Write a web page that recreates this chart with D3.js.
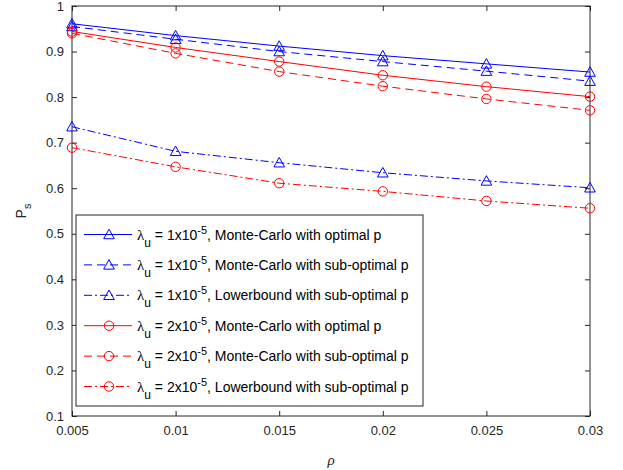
<!DOCTYPE html>
<html>
<head>
<meta charset="utf-8">
<script src="https://cdn.jsdelivr.net/npm/d3@7/dist/d3.min.js"></script>
<style>
  body { margin: 0; background: #fff; }
  svg { display: block; font-family: "Liberation Sans", Arial, sans-serif; }
</style>
</head>
<body>
<svg id="chart"></svg>
<script>
const width = 623, height = 470;
const margin = { top: 6, right: 33, bottom: 54, left: 72 };
const innerWidth = width - margin.left - margin.right;
const innerHeight = height - margin.top - margin.bottom;

// data
const rho = [0.005, 0.01, 0.015, 0.02, 0.025, 0.03];
const mcOpt1 = [0.961, 0.935, 0.912, 0.891, 0.873, 0.855];
const mcSub1 = [0.955, 0.927, 0.900, 0.878, 0.857, 0.835];
const lowB1 = [0.735, 0.681, 0.656, 0.634, 0.616, 0.601];
const mcOpt2 = [0.944, 0.909, 0.878, 0.848, 0.823, 0.801];
const mcSub2 = [0.940, 0.896, 0.856, 0.824, 0.796, 0.771];
const lowB2 = [0.689, 0.647, 0.611, 0.593, 0.572, 0.556];

const xTicks = [0.005, 0.01, 0.015, 0.02, 0.025, 0.03];
const xTickLabels = ['0.005', '0.01', '0.015', '0.02', '0.025', '0.03'];
const yTicks = [0.1, 0.2, 0.3, 0.4, 0.5, 0.6, 0.7, 0.8, 0.9, 1];
const yTickLabels = ['0.1', '0.2', '0.3', '0.4', '0.5', '0.6', '0.7', '0.8', '0.9', '1'];

const series = [
  { values: mcOpt1, color: '#0000ff', dash: null, marker: 'tri', lam: '1', label: 'Monte-Carlo with optimal p' },
  { values: mcSub1, color: '#0000ff', dash: '8,5', marker: 'tri', lam: '1', label: 'Monte-Carlo with sub-optimal p' },
  { values: lowB1, color: '#0000ff', dash: '8,3,2,3', marker: 'tri', lam: '1', label: 'Lowerbound with sub-optimal p' },
  { values: mcOpt2, color: '#ff0000', dash: null, marker: 'circ', lam: '2', label: 'Monte-Carlo with optimal p' },
  { values: mcSub2, color: '#ff0000', dash: '8,5', marker: 'circ', lam: '2', label: 'Monte-Carlo with sub-optimal p' },
  { values: lowB2, color: '#ff0000', dash: '8,3,2,3', marker: 'circ', lam: '2', label: 'Lowerbound with sub-optimal p' }
];

const axisColor = '#262626';

const svg = d3.select('#chart').attr('width', width).attr('height', height);
const g = svg.append('g').attr('transform', `translate(${margin.left},${margin.top})`);

const x = d3.scaleLinear().domain([0.005, 0.03]).range([0, innerWidth]);
const y = d3.scaleLinear().domain([0.1, 1]).range([innerHeight, 0]);

// axes, MATLAB style: ticks inside, box on
function styleAxis(sel) {
  sel.select('.domain').remove();
  sel.selectAll('line').attr('stroke', axisColor);
  sel.selectAll('text').attr('fill', axisColor).style('font-size', '13px');
}
function noLabels(sel) {
  sel.selectAll('text').remove();
}

g.append('g')
  .attr('transform', `translate(0,${innerHeight})`)
  .call(d3.axisBottom(x).tickValues(xTicks).tickFormat((d, i) => xTickLabels[i]).tickSize(-5).tickPadding(10))
  .call(styleAxis);
g.append('g')
  .call(d3.axisTop(x).tickValues(xTicks).tickSize(-5))
  .call(styleAxis).call(noLabels);
g.append('g')
  .call(d3.axisLeft(y).tickValues(yTicks).tickFormat((d, i) => yTickLabels[i]).tickSize(-5).tickPadding(8))
  .call(styleAxis);
g.append('g')
  .attr('transform', `translate(${innerWidth},0)`)
  .call(d3.axisRight(y).tickValues(yTicks).tickSize(-5))
  .call(styleAxis).call(noLabels);

g.append('rect')
  .attr('width', innerWidth).attr('height', innerHeight)
  .attr('fill', 'none').attr('stroke', axisColor).attr('stroke-width', 1);

// axis labels
g.append('text')
  .attr('x', innerWidth / 2).attr('y', innerHeight + 49)
  .attr('text-anchor', 'middle')
  .attr('fill', axisColor)
  .style('font-size', '15px').style('font-family', '"Liberation Serif", serif').style('font-style', 'italic')
  .text('ρ');

const yl = g.append('text')
  .attr('transform', `translate(${-46},${innerHeight / 2}) rotate(-90)`)
  .attr('text-anchor', 'middle')
  .attr('fill', axisColor)
  .style('font-size', '14px');
yl.append('tspan').text('P');
yl.append('tspan').attr('dy', 5).style('font-size', '11px').text('s');

// markers
function drawMarker(sel, type, color, cx, cy) {
  if (type === 'tri') {
    const s = 5.3;
    sel.append('path')
      .attr('d', `M${cx},${cy - s}L${cx + s},${cy + s * 0.8}L${cx - s},${cy + s * 0.8}Z`)
      .attr('fill', 'none').attr('stroke', color).attr('stroke-width', 1);
  } else {
    sel.append('circle')
      .attr('cx', cx).attr('cy', cy).attr('r', 4.7)
      .attr('fill', 'none').attr('stroke', color).attr('stroke-width', 1);
  }
}

const line = d3.line().x((d, i) => x(rho[i])).y(d => y(d));
const plotLayer = g.append('g');

series.forEach(s => {
  plotLayer.append('path')
    .attr('d', line(s.values))
    .attr('fill', 'none')
    .attr('stroke', s.color)
    .attr('stroke-width', 1)
    .attr('stroke-dasharray', s.dash);
  s.values.forEach((v, i) => drawMarker(plotLayer, s.marker, s.color, x(rho[i]), y(v)));
});

// legend
const legX = 76 - margin.left, legY = 215 - margin.top;
const legW = 347, legH = 191;
const rowH = 30.4;
const leg = g.append('g').attr('transform', `translate(${legX},${legY})`);
leg.append('rect')
  .attr('width', legW).attr('height', legH)
  .attr('fill', '#fff').attr('stroke', axisColor).attr('stroke-width', 1);

series.forEach((s, i) => {
  const cy = 19.5 + i * rowH;
  leg.append('line')
    .attr('x1', 8).attr('x2', 56).attr('y1', cy).attr('y2', cy)
    .attr('stroke', s.color).attr('stroke-width', 1)
    .attr('stroke-dasharray', s.dash);
  drawMarker(leg, s.marker, s.color, 33, cy);

  const t = leg.append('text')
    .attr('x', 61).attr('y', cy + 5)
    .attr('fill', '#000')
    .style('font-size', '14px');
  t.append('tspan').style('font-family', '"Liberation Serif", serif').style('font-size', '15px').text('λ');
  t.append('tspan').attr('dy', 7).style('font-size', '12px').text('u');
  t.append('tspan').attr('dy', -7).text(` = ${s.lam}x10`);
  t.append('tspan').attr('dy', -6).style('font-size', '11px').text('-5');
  t.append('tspan').attr('dy', 6).text(`, ${s.label}`);
});
</script>
</body>
</html>
